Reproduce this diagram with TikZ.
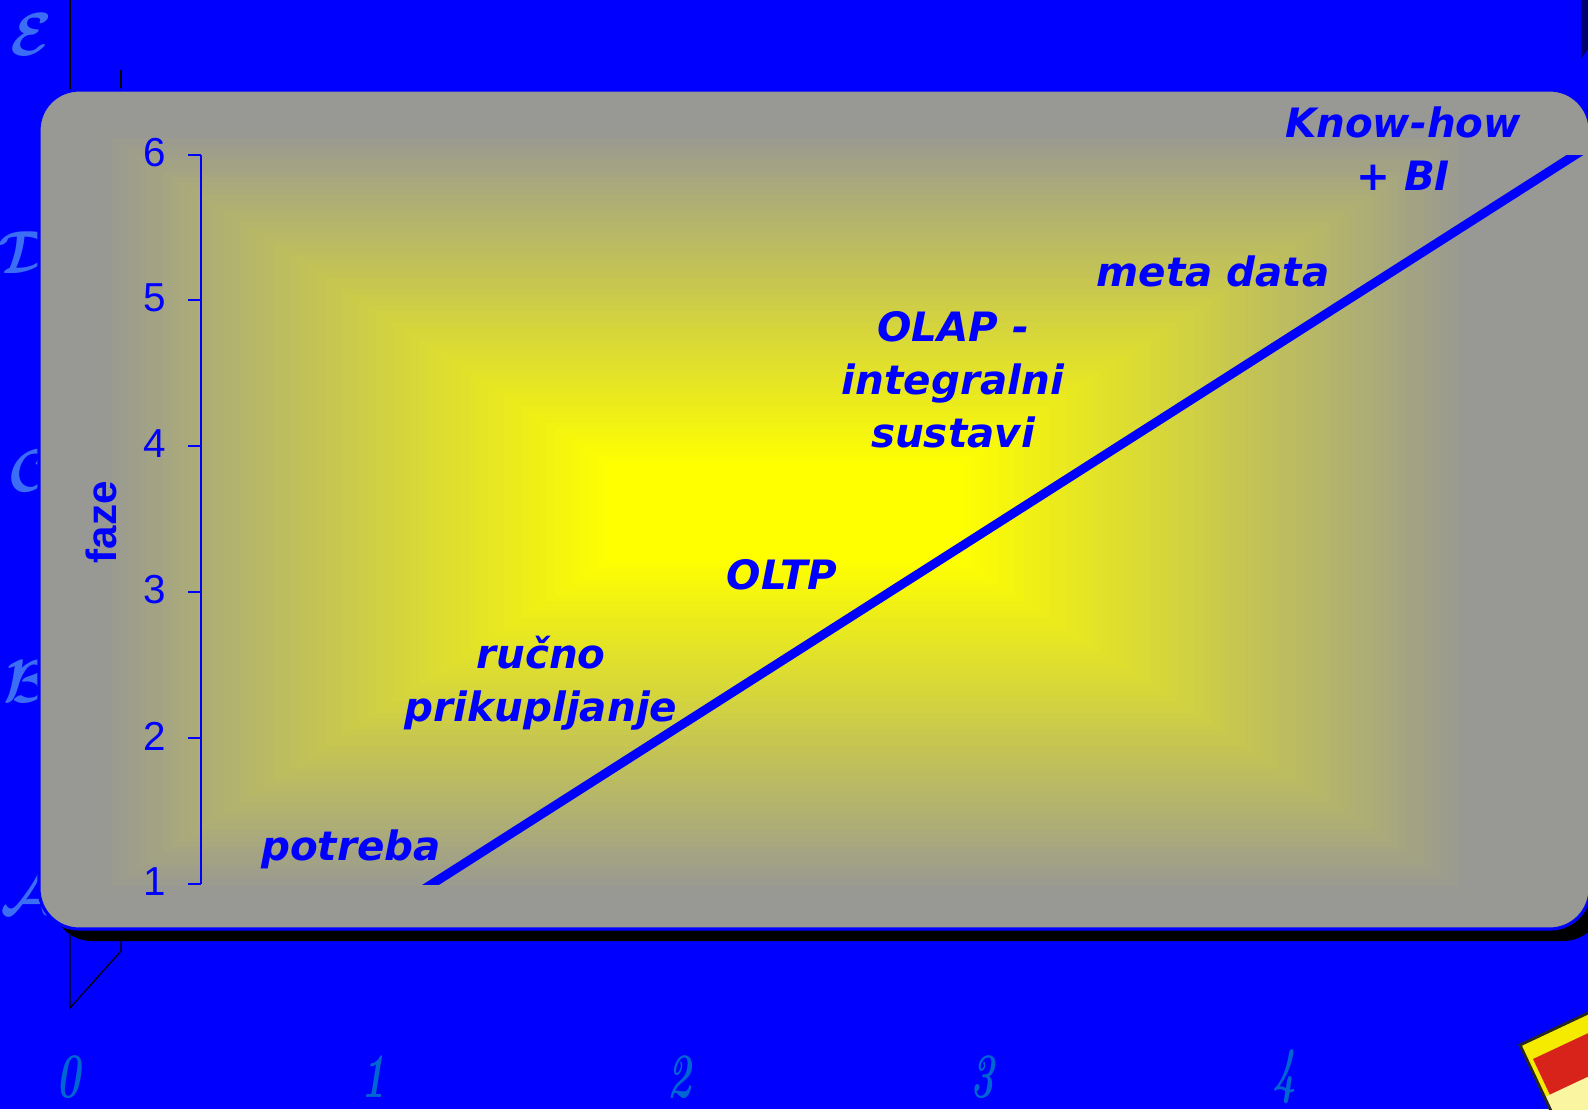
\documentclass[tikz,border=0pt]{standalone}
\usepackage{fontspec}
\usepackage{tikz}
\usetikzlibrary{positioning}

\newfontfamily\phasefont{DejaVu Sans}
\newfontfamily\axisfont{Liberation Sans}

\definecolor{slideblue}{RGB}{0,0,255}
\definecolor{panelgray}{RGB}{152,152,148}
\definecolor{glowyellow}{RGB}{255,255,0}
\definecolor{letterblue}{RGB}{60,110,245}
\definecolor{digitblue}{RGB}{0,102,210}
\definecolor{darknavy}{RGB}{0,0,110}
\definecolor{iconred}{RGB}{215,35,25}
\definecolor{iconyellow}{RGB}{245,235,0}
\definecolor{iconpale}{RGB}{250,245,160}

\begin{document}
\begin{tikzpicture}[x=0.01cm, y=-0.01cm,
  phase/.style={font=\phasefont\fontsize{11.5}{15}\bfseries\itshape\selectfont, text=slideblue, align=center, inner sep=0pt},
  ticklabel/.style={font=\axisfont\fontsize{11.5}{13}\selectfont, text=slideblue, anchor=east, inner sep=0pt},
  scriptletter/.style={text=letterblue, inner sep=0pt, font=\fontsize{17.28}{20}\selectfont\boldmath},
  backdigit/.style={text=digitblue, inner sep=0pt, font=\fontsize{18}{21}\bfseries\itshape\selectfont},
  axisline/.style={draw=slideblue, line width=0.5pt},
  backline/.style={draw=black, line width=0.35pt}
]
  % slide background
  \fill[slideblue] (0,0) rectangle (1588,1109);
  \useasboundingbox (0,0) rectangle (1588,1109);
  \fill[darknavy] (1581,0) -- (1588,0) -- (1588,49) -- (1581,59) -- cycle;

  % old 3d chart behind the panel
  \draw[backline] (70,0) -- (70,90);
  \draw[backline] (121,70) -- (121,90);
  \draw[backline] (70,935) -- (70,1008) -- (121,951) -- (121,935);

  \node[scriptletter] (letE) at (31,35) {$\mathcal{E}$};
  \node[scriptletter] (letD) at (27,253) {$\mathcal{D}$};
  \node[scriptletter] (letC) at (31,471) {$\mathcal{C}$};
  \node[scriptletter] (letB) at (27,682) {$\mathcal{B}$};
  \node[scriptletter] (letA) at (28,894) {$\mathcal{A}$};

  \node[backdigit] (dig0) at (68,1077) {\scalebox{0.64}[1]{0}};
  \node[backdigit] (dig1) at (373,1077) {\scalebox{0.64}[1]{1}};
  \node[backdigit] (dig2) at (679,1077) {\scalebox{0.64}[1]{2}};
  \node[backdigit] (dig3) at (982,1077) {\scalebox{0.64}[1]{3}};
  \node[backdigit] (dig4) at (1284,1077) {\scalebox{0.64}[1]{4}};

  % corner icon
  \fill[iconyellow] (1520,1045) -- (1656,981) -- (1720,1117) -- (1584,1181) -- cycle;
  \fill[iconred] (1533,1059) -- (1663,998) -- (1680,1034) -- (1550,1095) -- cycle;
  \fill[iconpale] (1545,1097) -- (1681,1033) -- (1720,1117) -- (1584,1181) -- cycle;
  \draw[black!85, line width=0.8pt] (1584,1181) -- (1520,1045) -- (1656,981);

  % panel, yellow glow from the centre out
  \fill[black, rounded corners=0.4cm] (52,102) rectangle (1603,941);
  \begin{scope}
    \clip[rounded corners=0.4cm] (39,90) rectangle (1590,929);
    \fill[panelgray] (39,90) rectangle (1590,929);
    \foreach \k in {1,...,60}{
      \pgfmathtruncatemacro\f{100*\k/60}
      \pgfmathsetmacro\w{690*(1-\k/60/1.35)}
      \pgfmathsetmacro\h{385*(1-\k/60/1.15)}
      \fill[glowyellow!\f!panelgray] (785-\w,512-\h) rectangle (785+\w,512+\h);
    }
  \end{scope}
  \draw[slideblue, line width=0.9pt, rounded corners=0.4cm] (39,90) rectangle (1590,929);

  % axis
  \draw[axisline] (201,155) -- (201,884);
  \draw[axisline] (188,155) -- (201,155);
  \draw[axisline] (188,300) -- (201,300);
  \draw[axisline] (188,446) -- (201,446);
  \draw[axisline] (188,592) -- (201,592);
  \draw[axisline] (188,738) -- (201,738);
  \draw[axisline] (188,884) -- (201,884);
  \node[ticklabel] (t6) at (167,153) {6};
  \node[ticklabel] (t5) at (167,298) {5};
  \node[ticklabel] (t4) at (167,444) {4};
  \node[ticklabel] (t3) at (167,590) {3};
  \node[ticklabel] (t2) at (167,736) {2};
  \node[ticklabel] (t1) at (167,882) {1};
  \node[rotate=90, text=slideblue, font=\axisfont\fontsize{12}{14}\bfseries\selectfont] (faze) at (101,522) {faze};

  % growth line
  \coordinate (lineStart) at (432,884);
  \coordinate (lineEnd) at (1575,155);
  \begin{scope}
    \clip (0,155) rectangle (1588,884);
    \draw[slideblue, line width=0.09cm, shorten <=-12pt, shorten >=-12pt] (lineStart) -- (lineEnd);
  \end{scope}

  % phases
  \node[phase] (potreba) at (351,849) {potreba};
  \node[phase] (rucno) at (541,683) {ručno\\prikupljanje};
  \node[phase] (oltp) at (782,575) {OLTP};
  \node[phase] (olap) at (953,380) {OLAP -\\integralni\\sustavi};
  \node[phase] (meta) at (1213,271) {meta data};
  \node[phase] (knowhow) at (1403,149) {Know-how\\+ BI};
\end{tikzpicture}
\end{document}
